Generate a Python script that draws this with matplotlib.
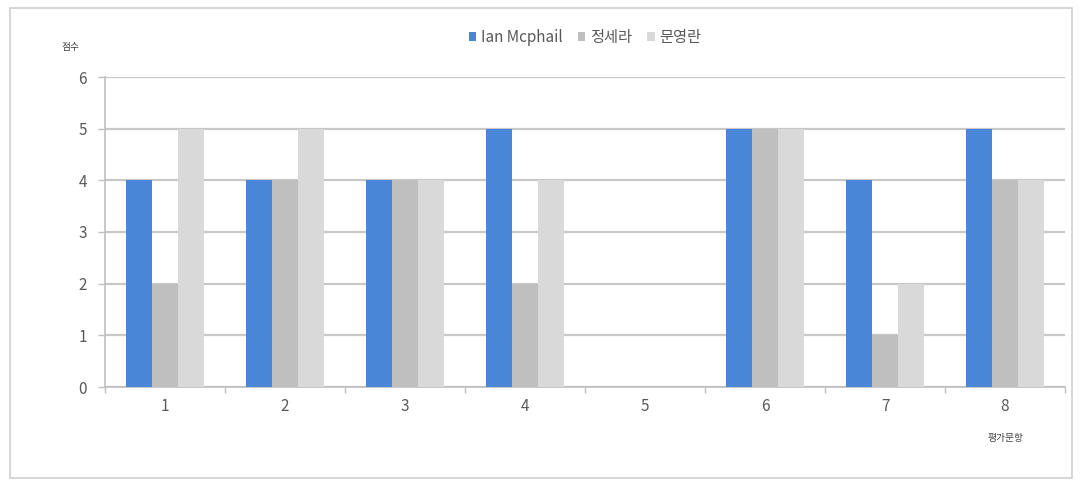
import numpy as np
import matplotlib.pyplot as plt
from matplotlib.patches import Rectangle

plt.rcParams['font.family'] = ['Noto Sans CJK KR', 'DejaVu Sans']

# data
items = ['1', '2', '3', '4', '5', '6', '7', '8']
ian = [4, 4, 4, 5, 0, 5, 4, 5]
jung = [2, 4, 4, 2, 0, 5, 1, 4]
moon = [5, 5, 4, 4, 0, 5, 2, 4]
names = ['Ian Mcphail', '정세라', '문영란']
colors = ['#4a86d8', '#bfbfbf', '#d9d9d9']

fig = plt.figure(figsize=(10.8, 4.82), dpi=100)
fig.patches.append(Rectangle((0.009, 0.008), 0.984, 0.975, transform=fig.transFigure,
                             fill=False, edgecolor='#d0d0d0', lw=1.2))
ax = fig.add_axes([105 / 1080, 1 - 387 / 482, 960 / 1080, 310 / 482])

x = np.arange(len(items))
w = 0.217
for i, (vals, c) in enumerate(zip([ian, jung, moon], colors)):
    ax.bar(x + (i - 1) * w, vals, width=w, color=c, label=names[i], zorder=3)

ax.set_xlim(-0.5, len(items) - 0.5)
ax.set_ylim(0, 6)
ax.set_yticks(range(7))
ax.yaxis.grid(True, color='#c8c8c8', lw=1.6, zorder=0)
ax.set_xticks(x)
ax.set_xticklabels(items)
ax.set_xticks(np.arange(-0.5, len(items)), minor=True)
ax.tick_params(axis='x', which='major', length=0, pad=8, labelsize=11, labelcolor='#595959')
ax.tick_params(axis='x', which='minor', length=4, color='#bfbfbf', width=1)
ax.tick_params(axis='y', length=5, color='#bfbfbf', width=1, labelsize=11, labelcolor='#595959', pad=8)

for s in ['top', 'right']:
    ax.spines[s].set_visible(False)
ax.spines['left'].set_color('#bfbfbf')
ax.spines['bottom'].set_color('#bfbfbf')
ax.spines['left'].set_linewidth(1.2)
ax.spines['bottom'].set_linewidth(1.2)

fig.text(70 / 1080, 1 - 47 / 482, '점수', fontsize=7, color='#404040', ha='center', va='center')
fig.text(1005 / 1080, 1 - 438 / 482, '평가문항', fontsize=7, color='#404040', ha='center', va='center')

ax.legend(loc='upper center', bbox_to_anchor=(0.5, 1.2), ncol=3, frameon=False,
          fontsize=11, handlelength=0.5, handleheight=0.5, handletextpad=0.3,
          columnspacing=1.0, labelcolor='#595959')

fig.savefig('out.png', dpi=100)
